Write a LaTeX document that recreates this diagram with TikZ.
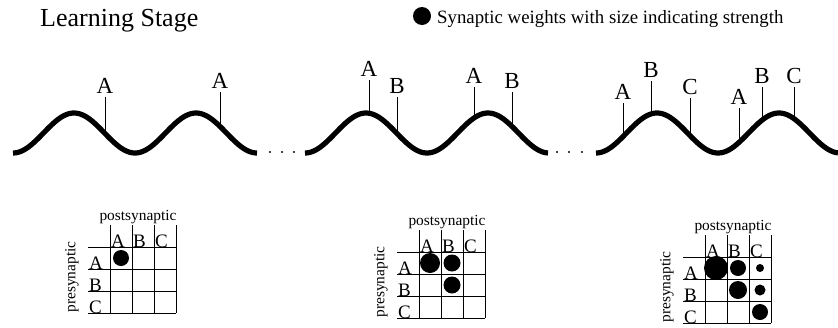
\documentclass[tikz,border=0pt]{standalone}
\usepackage{fontspec}
\setmainfont{Liberation Serif}
\usetikzlibrary{positioning}
\tikzset{
  declare function={wave(\p,\s)=133+20*cos(2.95082*(\p-\s));},
  wavepath/.style={line width=5.2pt, line join=round},
  tick/.style={line width=0.7pt},
  spike/.style={anchor=south, inner xsep=0pt, inner ysep=3pt, font=\fontsize{23}{26}\selectfont},
  gridline/.style={line width=0.9pt},
  celllabel/.style={anchor=base west, inner sep=0pt, font=\fontsize{19}{22}\selectfont},
  axislabel/.style={inner sep=0pt, font=\fontsize{15.4}{18}\selectfont},
  weight/.style={fill=black},
  weightgrid/.pic={
    \foreach \i in {1,...,4} {
      \draw[gridline] (22*\i,0) -- (22*\i,88);
      \draw[gridline] (0,22*\i) -- (88,22*\i);
    }
    \foreach \l [count=\i] in {A,B,C} {
      \node[celllabel] (col\l) at (22*\i+1,22) {\l};
      \node[celllabel] (row\l) at (1,22*\i+22) {\l};
    }
    \node[axislabel, anchor=base] (post) at (50,-5) {postsynaptic};
    \node[axislabel, rotate=90] (pre) at (-16,52) {presynaptic};
  }
}

\begin{document}
\begin{tikzpicture}[x=1pt, y=-1pt]
  \useasboundingbox (0,0) rectangle (838,327);
  % headings
  \node[anchor=base west, inner sep=0pt, font=\fontsize{26}{30}\selectfont] (stage) at (40,26) {Learning Stage};
  \fill[weight] (422,16) circle[radius=9pt];
  \node[anchor=base west, inner sep=0pt, font=\fontsize{18.8}{22}\selectfont] (key) at (437,23) {Synaptic weights with size indicating strength};
  % spikes on the oscillation
  \foreach \x/\t/\l/\s in {105/97/A/13, 220/92/A/13,
      369/80/A/305, 397/97/B/305, 474/87/A/305, 512/92/B/305,
      623/103/A/596, 651/81/B/596, 690/98/C/596, 739/108/A/596, 762/87/B/596, 794/87/C/596} {
    \node[spike] (s\x) at (\x,\t) {\l};
    \coordinate (c\x) at (\x,{wave(\x,\s)});
    \draw[tick] (s\x.south) -- (c\x);
  }
  % oscillation
  \draw[wavepath] plot[domain=13:257, samples=120] (\x,{wave(\x,13)});
  \draw[wavepath] plot[domain=305:548, samples=120] (\x,{wave(\x,305)});
  \draw[wavepath] plot[domain=596:838, samples=120] (\x,{wave(\x,596)});
  \foreach \x in {270,282,294,557,569,582}
    \fill (\x,152) circle[radius=1.2pt];
  % weight matrices
  \pic (g1) at (88,225) {weightgrid};
  \pic (g2) at (397,230) {weightgrid};
  \pic (g3) at (683,235) {weightgrid};
  \begin{scope}[shift={(88,225)}]
    \foreach \r/\c/\w in {1/1/8}
      \fill[weight] (22*\c+11,22*\r+11) circle[radius=\w pt];
  \end{scope}
  \begin{scope}[shift={(397,230)}]
    \foreach \r/\c/\w in {1/1/10, 1/2/8.5, 2/2/8.5}
      \fill[weight] (22*\c+11,22*\r+11) circle[radius=\w pt];
  \end{scope}
  \begin{scope}[shift={(683,235)}]
    \foreach \r/\c/\w in {1/1/12, 1/2/8, 1/3/4, 2/2/9, 2/3/5.5, 3/3/8}
      \fill[weight] (22*\c+11,22*\r+11) circle[radius=\w pt];
  \end{scope}
\end{tikzpicture}
\end{document}
